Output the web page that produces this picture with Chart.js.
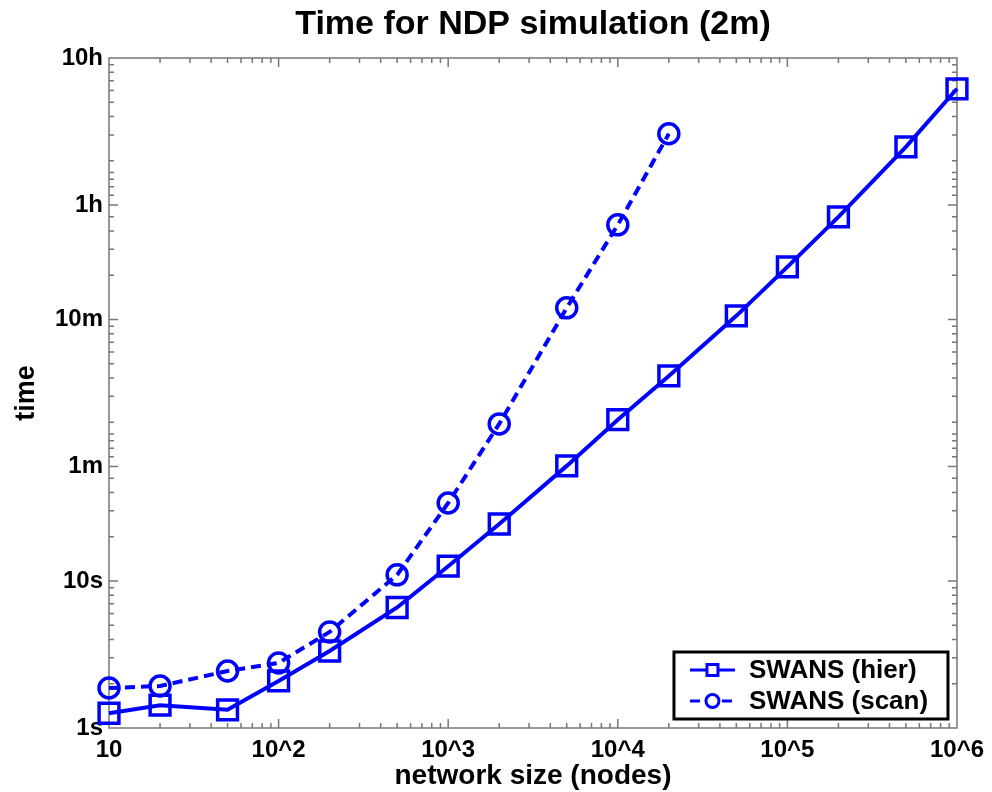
<!DOCTYPE html>
<html>
<head>
<meta charset="utf-8">
<title>Time for NDP simulation (2m)</title>
<script src="https://cdn.jsdelivr.net/npm/chart.js@4/dist/chart.umd.min.js"></script>
<style>
    body { margin: 0; background: #fff; }
    #wrap { width: 992px; height: 792px; }
</style>
</head>
<body>
<div id="wrap"><canvas id="chart" width="992" height="792"></canvas></div>
<script>
"use strict";

// network sizes (nodes) and run times (seconds)
var nodesHier = [10, 20, 50, 100, 200, 500, 1000, 2000, 5000, 10000, 20000, 50000, 100000, 200000, 500000, 1000000];
var timeHier = [1.26, 1.43, 1.33, 2.09, 3.34, 6.6, 12.6, 24.4, 60.6, 125, 248, 635, 1368, 2990, 8960, 22230];
var nodesScan = [10, 20, 50, 100, 200, 500, 1000, 2000, 5000, 10000, 20000];
var timeScan = [1.87, 1.93, 2.44, 2.77, 4.5, 11.0, 33.9, 117, 720, 2640, 10990];

var xTickValues = [10, 100, 1000, 10000, 100000, 1000000];
var xTickLabels = ['10', '10^2', '10^3', '10^4', '10^5', '10^6'];
var xMinorTicks = [20, 30, 40, 50, 60, 70, 80, 90,
    200, 300, 400, 500, 600, 700, 800, 900,
    2000, 3000, 4000, 5000, 6000, 7000, 8000, 9000,
    20000, 30000, 40000, 50000, 60000, 70000, 80000, 90000,
    200000, 300000, 400000, 500000, 600000, 700000, 800000, 900000];

var yTickValues = [1, 10, 60, 600, 3600, 36000];
var yTickLabels = ['1s', '10s', '1m', '10m', '1h', '10h'];
var yMinorTicks = [2, 3, 4, 5, 6, 7, 8, 9,
    20, 30, 40, 50, 70, 80, 90, 100,
    120, 180, 240, 300, 360, 420, 480, 540,
    1200, 1800, 2400, 3000, 4200, 4800, 5400, 6000,
    7200, 10800, 14400, 18000, 21600, 25200, 28800, 32400];

var TITLE = 'Time for NDP simulation (2m)';
var BLUE = '#0000ff';
var AXIS_GREY = '#777777';
var FONT = "'Liberation Sans', Arial, sans-serif";

function toPoints(xs, ys) {
    var pts = [];
    for (var i = 0; i < xs.length; i++) {
        pts.push({x: xs[i], y: ys[i]});
    }
    return pts;
}

function setTicks(values) {
    return function(scale) {
        scale.ticks = values.map(function(v) { return {value: v}; });
    };
}

function labelFor(values, labels) {
    return function(value) {
        var i = values.indexOf(value);
        return i >= 0 ? labels[i] : '';
    };
}

// box round the plot with inward tick marks, title over the plot, legend inside
var boxPlugin = {
    id: 'boxTicks',
    beforeDatasetsDraw: function(chart) {
        var ctx = chart.ctx;
        var a = chart.chartArea;
        var x = chart.scales.x;
        var y = chart.scales.y;
        ctx.save();
        ctx.strokeStyle = AXIS_GREY;
        ctx.lineWidth = 1.5;
        ctx.strokeRect(a.left, a.top, a.right - a.left, a.bottom - a.top);
        ctx.beginPath();
        var tick = function(list, len) {
            list.forEach(function(v) {
                var px = x.getPixelForValue(v);
                if (px > a.left + 1 && px < a.right - 1) {
                    ctx.moveTo(px, a.bottom); ctx.lineTo(px, a.bottom - len);
                    ctx.moveTo(px, a.top); ctx.lineTo(px, a.top + len);
                }
            });
        };
        var ytick = function(list, len) {
            list.forEach(function(v) {
                var py = y.getPixelForValue(v);
                if (py > a.top + 1 && py < a.bottom - 1) {
                    ctx.moveTo(a.left, py); ctx.lineTo(a.left + len, py);
                    ctx.moveTo(a.right, py); ctx.lineTo(a.right - len, py);
                }
            });
        };
        tick(xTickValues, 9);
        tick(xMinorTicks, 5);
        ytick(yTickValues, 9);
        ytick(yMinorTicks, 5);
        ctx.stroke();

        ctx.fillStyle = '#000';
        ctx.font = 'bold 34px ' + FONT;
        ctx.textAlign = 'center';
        ctx.textBaseline = 'alphabetic';
        ctx.fillText(TITLE, (a.left + a.right) / 2, 34);
        ctx.restore();
    },
    afterDraw: function(chart) {
        var ctx = chart.ctx;
        var a = chart.chartArea;
        var left = a.right - 283, top = a.bottom - 76, w = 274, h = 67;
        ctx.save();
        ctx.fillStyle = '#fff';
        ctx.fillRect(left, top, w, h);
        ctx.strokeStyle = '#000';
        ctx.lineWidth = 3;
        ctx.strokeRect(left, top, w, h);
        chart.data.datasets.forEach(function(ds, i) {
            var cy = top + 18 + i * 31;
            ctx.strokeStyle = ds.borderColor;
            ctx.lineWidth = 3;
            ctx.setLineDash(ds.borderDash || []);
            ctx.beginPath();
            ctx.moveTo(left + 16, cy);
            ctx.lineTo(left + 61, cy);
            ctx.stroke();
            ctx.setLineDash([]);
            ctx.beginPath();
            if (ds.pointStyle === 'rect') {
                ctx.rect(left + 33, cy - 5.5, 11, 11);
            } else {
                ctx.arc(left + 38.5, cy, 6.5, 0, Math.PI * 2);
            }
            ctx.fillStyle = '#fff';
            ctx.fill();
            ctx.stroke();
            ctx.fillStyle = '#000';
            ctx.font = 'bold 26px ' + FONT;
            ctx.textBaseline = 'middle';
            ctx.fillText(ds.label, left + 75, cy + 1);
        });
        ctx.restore();
    }
};

var ctx = document.getElementById('chart');
var chart = new Chart(ctx, {
    type: 'line',
    data: {
        datasets: [{
            label: 'SWANS (hier)',
            data: toPoints(nodesHier, timeHier),
            borderColor: BLUE,
            borderWidth: 4,
            pointStyle: 'rect',
            pointRadius: 14,
            pointBorderWidth: 3.5,
            pointBorderColor: BLUE,
            pointBackgroundColor: 'rgba(0,0,0,0)',
            tension: 0,
            clip: false
        }, {
            label: 'SWANS (scan)',
            data: toPoints(nodesScan, timeScan),
            borderColor: BLUE,
            borderWidth: 4,
            borderDash: [10, 6],
            pointStyle: 'circle',
            pointRadius: 10,
            pointBorderWidth: 3.5,
            pointBorderColor: BLUE,
            pointBackgroundColor: 'rgba(0,0,0,0)',
            tension: 0,
            clip: false
        }]
    },
    options: {
        responsive: false,
        animation: false,
        layout: {padding: {left: 0, right: 33, top: 58, bottom: 0}},
        plugins: {
            legend: {display: false},
            tooltip: {enabled: false},
            title: {display: false}
        },
        scales: {
            x: {
                type: 'logarithmic',
                min: 10,
                max: 1000000,
                afterBuildTicks: setTicks(xTickValues),
                afterFit: function(scale) { scale.height = 64; },
                grid: {display: false, drawTicks: false},
                border: {display: false},
                ticks: {
                    autoSkip: false,
                    maxRotation: 0,
                    padding: 8,
                    color: '#000',
                    font: {family: FONT, size: 24, weight: 'bold'},
                    callback: labelFor(xTickValues, xTickLabels)
                },
                title: {
                    display: true,
                    text: 'network size (nodes)',
                    color: '#000',
                    font: {family: FONT, size: 28, weight: 'bold', lineHeight: 1.2},
                    padding: {top: 0, bottom: -1}
                }
            },
            y: {
                type: 'logarithmic',
                min: 1,
                max: 36000,
                afterBuildTicks: setTicks(yTickValues),
                afterFit: function(scale) { scale.width = 109; },
                grid: {display: false, drawTicks: false},
                border: {display: false},
                ticks: {
                    autoSkip: false,
                    padding: 6,
                    color: '#000',
                    font: {family: FONT, size: 24, weight: 'bold'},
                    callback: labelFor(yTickValues, yTickLabels)
                },
                title: {
                    display: true,
                    text: 'time',
                    color: '#000',
                    font: {family: FONT, size: 27, weight: 'bold', lineHeight: 1.2},
                    padding: {top: 10, bottom: 0}
                }
            }
        }
    },
    plugins: [boxPlugin]
});
</script>
</body>
</html>
